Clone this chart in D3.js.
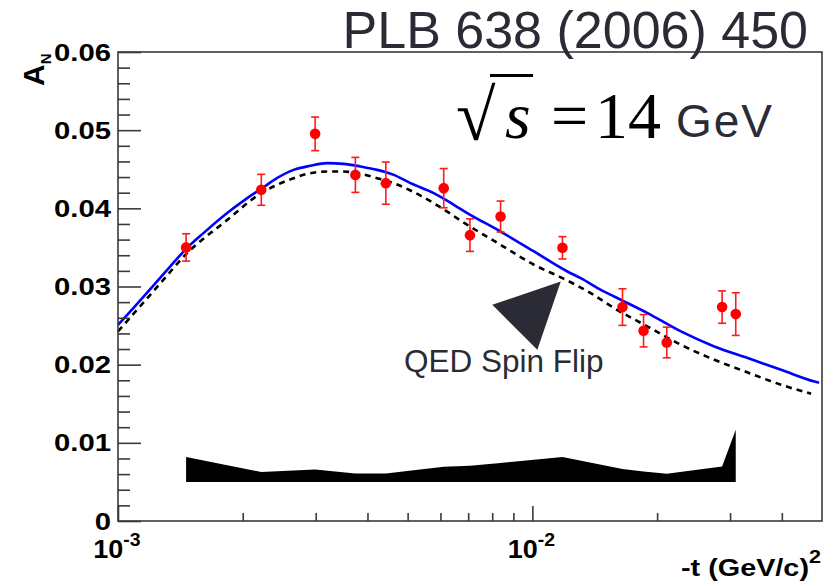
<!DOCTYPE html>
<html><head><meta charset="utf-8">
<script src="https://cdn.jsdelivr.net/npm/d3@7"></script>
<style>body{margin:0;background:#fff;} svg{display:block;}</style>
</head><body>
<svg id="c" width="833" height="586"></svg>
<script>
// ---- data ----
const tData  = [0.00146, 0.002217, 0.00299, 0.00374, 0.00443, 0.00611, 0.00707, 0.00838, 0.01182, 0.0165, 0.01855, 0.0211, 0.0287, 0.03096];
const aData  = [0.0350, 0.04237, 0.04953, 0.04428, 0.04322, 0.04258, 0.03657, 0.03895, 0.03495, 0.02737, 0.02434, 0.02284, 0.02737, 0.02647];
const aErr   = [0.00175, 0.00198, 0.00215, 0.00224, 0.0027, 0.00251, 0.00208, 0.00198, 0.00143, 0.00234, 0.00207, 0.00196, 0.00207, 0.00273];
const sysTop = [0.00818, 0.00627, 0.0066, 0.00609, 0.00609, 0.00694, 0.00707, 0.00742, 0.00818, 0.00665, 0.00634, 0.00605, 0.00698, 0.01167];
const sysBase = 0.005;

const blueT = [0.00100, 0.001089, 0.001217, 0.001334, 0.001466, 0.001608, 0.001831, 0.002047, 0.002216, 0.002418, 0.002653, 0.002912, 0.003195, 0.003505, 0.003846, 0.004220, 0.004630, 0.005080, 0.005781, 0.006464, 0.006965, 0.008381, 0.01009, 0.01215, 0.01308, 0.01463, 0.01575, 0.01897, 0.02283, 0.02748, 0.03309, 0.03983, 0.04794, 0.0492];
const blueA = [0.0251, 0.02724, 0.03011, 0.03252, 0.0349, 0.03683, 0.03937, 0.04128, 0.04249, 0.04386, 0.04492, 0.04544, 0.04578, 0.04569, 0.04535, 0.04492, 0.04428, 0.04322, 0.04194, 0.04045, 0.03939, 0.03703, 0.03448, 0.03192, 0.03107, 0.02958, 0.02872, 0.0266, 0.02425, 0.02233, 0.02084, 0.01935, 0.01785, 0.01770];

const dashT = [0.00100, 0.001130, 0.001263, 0.00146, 0.001831, 0.002216, 0.002418, 0.002653, 0.002912, 0.003195, 0.003505, 0.003846, 0.004220, 0.004630, 0.005080, 0.005781, 0.006965, 0.008381, 0.01009, 0.01182, 0.01383, 0.01575, 0.01897, 0.02283, 0.02748, 0.03309, 0.03983, 0.04707];
const dashA = [0.02425, 0.02744, 0.03036, 0.03414, 0.03847, 0.04194, 0.0430, 0.04386, 0.0445, 0.04471, 0.04471, 0.04441, 0.04386, 0.04322, 0.04228, 0.04066, 0.03789, 0.03533, 0.03278, 0.03107, 0.02916, 0.02724, 0.02488, 0.02254, 0.02063, 0.0190, 0.01743, 0.01628];

const yTicks = [0, 0.01, 0.02, 0.03, 0.04, 0.05, 0.06];
const yTickLabels = ["0", "0.01", "0.02", "0.03", "0.04", "0.05", "0.06"];
const yMinor = [0.002,0.004,0.006,0.008,0.012,0.014,0.016,0.018,0.022,0.024,0.026,0.028,0.032,0.034,0.036,0.038,0.042,0.044,0.046,0.048,0.052,0.054,0.056,0.058];
const xTicks = [0.001, 0.01];
const xTickExp = ["-3", "-2"];
const xMinor = [0.002,0.003,0.004,0.005,0.006,0.007,0.008,0.009,0.02,0.03,0.04];

const arrowT = [0.008006, 0.01171, 0.01028];
const arrowA = [0.02766, 0.03064, 0.0219];

// ---- layout ----
const L = 118, R = 822, T = 52, B = 521;
const svg = d3.select("#c");
const x = d3.scaleLog().domain([1e-3, 0.05]).range([L, R]);
const y = d3.scaleLinear().domain([0, 0.06]).range([B, T]);
const ink = "#2b2b35";
const axisCol = "#3a3a3a";

// systematic band
const band = d3.area().x((d,i) => x(tData[i])).y0(() => y(sysBase)).y1((d,i) => y(d));
svg.append("path").attr("d", band(sysTop)).attr("fill", "#000");

// curves
const line = d3.line().curve(d3.curveMonotoneX);
svg.append("path").attr("d", line(dashT.map((t,i)=>[x(t), y(dashA[i])])))
  .attr("fill","none").attr("stroke","#000").attr("stroke-width",2.6).attr("stroke-dasharray","6,5");
svg.append("path").attr("d", line(blueT.map((t,i)=>[x(t), y(blueA[i])])))
  .attr("fill","none").attr("stroke","#0000ff").attr("stroke-width",2.6);

// error bars + markers
const red = "#ff1a1a";
const eb = svg.append("g").attr("stroke", red).attr("stroke-width", 1.6);
tData.forEach((t,i) => {
  const cx = x(t), y1 = y(aData[i]+aErr[i]), y0 = y(aData[i]-aErr[i]);
  eb.append("line").attr("x1",cx).attr("x2",cx).attr("y1",y1).attr("y2",y0);
  eb.append("line").attr("x1",cx-4).attr("x2",cx+4).attr("y1",y1).attr("y2",y1);
  eb.append("line").attr("x1",cx-4).attr("x2",cx+4).attr("y1",y0).attr("y2",y0);
});
svg.append("g").selectAll("circle").data(tData).join("circle")
  .attr("cx", d => x(d)).attr("cy", (d,i) => y(aData[i])).attr("r", 5.3).attr("fill", "#ff0000");

// frame
svg.append("rect").attr("x",L).attr("y",T).attr("width",R-L).attr("height",B-T)
  .attr("fill","none").attr("stroke",axisCol).attr("stroke-width",1.6);

// ticks via axes
function styleAxis(g){ g.select(".domain").remove(); g.selectAll("line").attr("stroke",axisCol).attr("stroke-width",1.6); g.selectAll("text").remove(); }
svg.append("g").attr("transform",`translate(${L},0)`).call(d3.axisRight(y).tickValues(yTicks).tickSize(23).tickFormat("")).call(styleAxis);
svg.append("g").attr("transform",`translate(${L},0)`).call(d3.axisRight(y).tickValues(yMinor).tickSize(12).tickFormat("")).call(styleAxis);
svg.append("g").attr("transform",`translate(0,${B})`).call(d3.axisTop(x).tickValues(xTicks).tickSize(15).tickFormat("")).call(styleAxis);
svg.append("g").attr("transform",`translate(0,${B})`).call(d3.axisTop(x).tickValues(xMinor).tickSize(8).tickFormat("")).call(styleAxis);

// y tick labels
yTicks.forEach((v,i) => {
  svg.append("text").attr("transform", `translate(111,${y(v)+8.6}) scale(1.22,1)`)
    .attr("text-anchor","end").attr("font-family","Liberation Sans, Arial, sans-serif")
    .attr("font-weight","bold").attr("font-size",24).attr("fill","#000").text(yTickLabels[i]);
});
// x tick labels
xTicks.forEach((v,i) => {
  const tx = svg.append("text").attr("transform", `translate(${x(v)-1},557.5) scale(1.08,1)`)
    .attr("text-anchor","middle").attr("font-family","Liberation Sans, Arial, sans-serif")
    .attr("font-weight","bold").attr("font-size",25).attr("fill","#000");
  tx.append("tspan").text("10");
  tx.append("tspan").attr("dy",-12).attr("font-size",18).text(xTickExp[i]);
});
// x title
const xt = svg.append("text").attr("transform","translate(821,576) scale(1.2,1)")
  .attr("text-anchor","end").attr("font-family","Liberation Sans, Arial, sans-serif")
  .attr("font-weight","bold").attr("font-size",24).attr("fill","#000");
xt.append("tspan").text("-t (GeV/c)");
xt.append("tspan").attr("dy",-13).attr("font-size",18).text("2");
// y title
const yt = svg.append("text").attr("transform","translate(44,86) rotate(-90)")
  .attr("font-family","Liberation Sans, Arial, sans-serif").attr("font-weight","bold")
  .attr("font-size",30).attr("fill","#000");
yt.append("tspan").text("A");
yt.append("tspan").attr("dy",7).attr("font-size",15).text("N");

// annotations
svg.append("text").attr("x",808).attr("y",48).attr("text-anchor","end")
  .attr("font-family","Liberation Sans, Arial, sans-serif").attr("font-size",52).attr("fill",ink)
  .text("PLB 638 (2006) 450");
svg.append("text").attr("x",456).attr("y",140)
  .attr("font-family","Liberation Serif, Times New Roman, serif").attr("font-size",72).attr("fill","#000").text("√");
svg.append("line").attr("x1",490).attr("x2",533).attr("y1",75.5).attr("y2",75.5).attr("stroke","#000").attr("stroke-width",3);
svg.append("text").attr("x",505).attr("y",138).attr("font-style","italic")
  .attr("font-family","Liberation Serif, Times New Roman, serif").attr("font-size",66).attr("fill","#000").text("s");
svg.append("text").attr("x",551).attr("y",138)
  .attr("font-family","Liberation Serif, Times New Roman, serif").attr("font-size",66).attr("fill","#000").text("=");
svg.append("text").attr("x",595).attr("y",138)
  .attr("font-family","Liberation Serif, Times New Roman, serif").attr("font-size",66).attr("fill","#000").text("14");
svg.append("text").attr("x",676).attr("y",137).attr("letter-spacing",2)
  .attr("font-family","Liberation Sans, Arial, sans-serif").attr("font-size",46).attr("fill",ink).text("GeV");
svg.append("text").attr("x",404).attr("y",372)
  .attr("font-family","Liberation Sans, Arial, sans-serif").attr("font-size",31.5).attr("fill",ink).text("QED Spin Flip");
svg.append("polygon").attr("points", arrowT.map((t,i)=>`${x(t)},${y(arrowA[i])}`).join(" ")).attr("fill",ink);
</script>
</body></html>
